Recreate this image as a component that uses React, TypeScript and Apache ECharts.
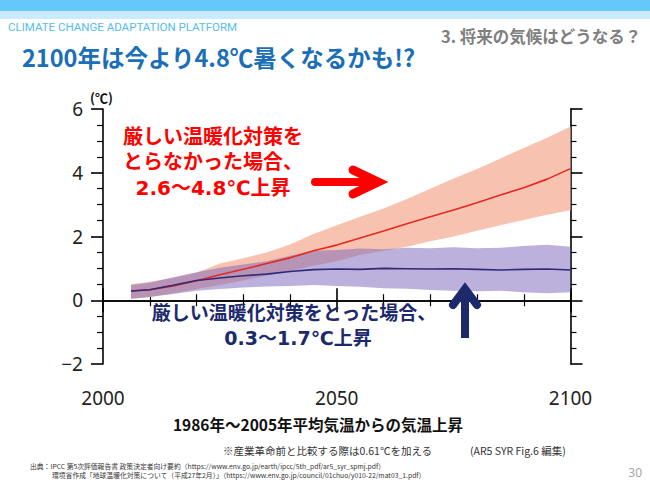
import React, { useEffect, useRef } from "react";
import * as echarts from "echarts";

// Projection years (5-year steps from the start of the scenario runs)
const YEARS = [2006, 2010, 2015, 2020, 2025, 2030, 2035, 2040, 2045, 2050, 2055, 2060, 2065, 2070, 2075, 2080, 2085, 2090, 2095, 2100];

// High-emission scenario (no strict mitigation)
const HIGH_MEAN = [0.29, 0.33, 0.45, 0.61, 0.8, 0.97, 1.15, 1.33, 1.55, 1.73, 1.95, 2.17, 2.4, 2.62, 2.83, 3.06, 3.3, 3.53, 3.8, 4.13];
const HIGH_UPPER = [0.5, 0.58, 0.7, 0.86, 1.15, 1.32, 1.5, 1.75, 2.08, 2.35, 2.62, 2.88, 3.18, 3.5, 3.82, 4.12, 4.45, 4.78, 5.1, 5.45];
const HIGH_LOWER = [0.05, 0.1, 0.22, 0.35, 0.48, 0.62, 0.78, 0.92, 1.08, 1.22, 1.42, 1.55, 1.68, 1.85, 2.0, 2.18, 2.35, 2.52, 2.68, 2.82];

// Low-emission scenario (strict mitigation)
const LOW_MEAN = [0.29, 0.33, 0.47, 0.62, 0.7, 0.77, 0.82, 0.9, 0.96, 0.98, 0.97, 1.0, 0.99, 0.98, 0.99, 0.97, 0.95, 0.97, 0.98, 0.95];
const LOW_UPPER = [0.48, 0.55, 0.72, 0.88, 1.02, 1.12, 1.22, 1.4, 1.55, 1.58, 1.62, 1.6, 1.65, 1.63, 1.66, 1.63, 1.65, 1.7, 1.74, 1.68];
const LOW_LOWER = [0.05, 0.1, 0.2, 0.3, 0.35, 0.4, 0.43, 0.45, 0.48, 0.45, 0.42, 0.38, 0.36, 0.32, 0.3, 0.28, 0.3, 0.25, 0.22, 0.25];

// Axis ticks
const X_MIN = 2000;
const X_MAX = 2100;
const X_STEP = 50;
const Y_MIN = -2;
const Y_MAX = 6;
const Y_STEP = 2;

const JP = "'Noto Sans CJK JP', 'Noto Sans', sans-serif";
// Verdana-like Latin digits with a compact line box; kana/kanji fall back to Noto CJK
const JP_ANNOT = "'DejaVu Sans', 'Noto Sans CJK JP', sans-serif";
const NUM = "'Noto Sans', 'Open Sans', sans-serif";

function bandSeries(upper: number[], lower: number[], fill: string, z: number) {
  return {
    type: "custom",
    silent: true,
    z,
    clip: true,
    data: [[YEARS[0], upper[0]]],
    renderItem: (_params: any, api: any) => {
      const top = YEARS.map((yr, i) => api.coord([yr, upper[i]]));
      const bottom = YEARS.map((yr, i) => api.coord([yr, lower[i]])).reverse();
      return {
        type: "polygon",
        shape: { points: top.concat(bottom) },
        style: { fill },
      };
    },
  };
}

function meanSeries(values: number[], color: string) {
  return {
    type: "line",
    data: YEARS.map((yr, i) => [yr, values[i]]),
    showSymbol: false,
    symbol: "none",
    z: 5,
    lineStyle: { color, width: 1.6 },
    silent: true,
  };
}

const axisLine = { show: true, lineStyle: { color: "#000", width: 1.6 } };
const axisTick = { show: true, inside: false, length: 12, lineStyle: { color: "#000", width: 1.6 } };

function xAxis(position: "bottom" | "top", showLabel: boolean) {
  return {
    type: "value",
    position,
    min: X_MIN,
    max: X_MAX,
    interval: X_STEP,
    axisLine,
    axisTick,
    minorTick: { show: true, splitNumber: 5, length: 6, lineStyle: { color: "#000", width: 1.2 } },
    splitLine: { show: false },
    axisLabel: showLabel
      ? { show: true, fontSize: 19, color: "#222", margin: 24, fontFamily: NUM, formatter: (v: number) => String(v) }
      : { show: false },
  };
}

function yAxis(position: "left" | "right", showLabel: boolean) {
  return {
    type: "value",
    position,
    min: Y_MIN,
    max: Y_MAX,
    interval: Y_STEP,
    axisLine,
    axisTick,
    minorTick: { show: true, splitNumber: 4, length: 6, lineStyle: { color: "#000", width: 1.2 } },
    splitLine: { show: false },
    axisLabel: showLabel
      ? {
          show: true,
          fontSize: 19,
          color: "#222",
          margin: 20,
          fontFamily: NUM,
          formatter: (v: number) => (v < 0 ? "\u2212" + Math.abs(v) : String(v)),
        }
      : { show: false },
  };
}

function text(x: number, y: number, str: string, opts: any) {
  return {
    type: "text",
    x,
    y,
    silent: true,
    z: 100,
    style: {
      text: str,
      fill: opts.fill,
      fontSize: opts.fontSize,
      fontWeight: opts.fontWeight || "normal",
      fontFamily: opts.fontFamily || JP,
      textAlign: opts.align || "left",
      textVerticalAlign: "middle",
    },
  };
}

export default function App() {
  const ref = useRef<HTMLDivElement>(null);

  useEffect(() => {
    if (!ref.current) return;
    const chart = echarts.init(ref.current, undefined, { renderer: "svg" });

    const red = "#FF0000";
    const navy = "#1C2A6C";
    const redText = { fill: red, fontSize: 20, fontWeight: "bold", align: "center", fontFamily: JP_ANNOT };
    const navyText = { fill: navy, fontSize: 19, fontWeight: "bold", align: "center", fontFamily: JP_ANNOT };

    chart.setOption({
      animation: false,
      backgroundColor: "#fff",
      grid: { left: 103, right: 79.5, top: 109, bottom: 123, outerBoundsMode: "none" },
      xAxis: [xAxis("bottom", true), xAxis("top", false)],
      yAxis: [yAxis("left", true), yAxis("right", false)],
      series: [
        bandSeries(HIGH_UPPER, HIGH_LOWER, "rgb(247,195,176)", 1),
        bandSeries(LOW_UPPER, LOW_LOWER, "rgba(120,100,185,0.5)", 2),
        meanSeries(HIGH_MEAN, "#E8271E"),
        meanSeries(LOW_MEAN, "#2E2A78"),
      ],
      graphic: [
        // header bars
        { type: "rect", shape: { x: 0, y: 0, width: 650, height: 11 }, style: { fill: "#66C8FA" }, silent: true },
        { type: "rect", shape: { x: 0, y: 11, width: 650, height: 8 }, style: { fill: "#C9EBFD" }, silent: true },
        text(8, 27, "CLIMATE CHANGE ADAPTATION PLATFORM", { fill: "#55BDEB", fontSize: 11.5, fontFamily: "Roboto, 'Noto Sans', sans-serif" }),
        text(22, 57, "2100年は今より4.8℃暑くなるかも!?", { fill: "#1B6FB6", fontSize: 23.5, fontWeight: "bold" }),
        text(441, 36, "3. 将来の気候はどうなる？", { fill: "#7F7F7F", fontSize: 16.5, fontWeight: "bold" }),
        text(90, 97, "(℃)", { fill: "#111", fontSize: 13, fontWeight: "bold" }),

        // high scenario annotation
        text(213, 137, "厳しい温暖化対策を", redText),
        text(213, 162, "とらなかった場合、", redText),
        text(213, 188, "2.6〜4.8℃上昇", redText),
        {
          type: "line",
          shape: { x1: 315, y1: 182, x2: 374, y2: 182 },
          style: { stroke: red, lineWidth: 8, lineCap: "round" },
          silent: true,
          z: 100,
        },
        {
          type: "polyline",
          shape: { points: [[353, 170], [378, 182], [353, 194]] },
          style: { stroke: red, lineWidth: 9, lineCap: "round", lineJoin: "miter", fill: null },
          silent: true,
          z: 100,
        },

        // low scenario annotation
        text(294, 312.5, "厳しい温暖化対策をとった場合、", navyText),
        text(298, 337.5, "0.3〜1.7℃上昇", navyText),
        {
          type: "line",
          shape: { x1: 465, y1: 338, x2: 465, y2: 291 },
          style: { stroke: navy, lineWidth: 8, lineCap: "butt" },
          silent: true,
          z: 100,
        },
        {
          type: "polyline",
          shape: { points: [[453, 305], [465, 289], [477, 305]] },
          style: { stroke: navy, lineWidth: 8, lineCap: "round", lineJoin: "miter", fill: null },
          silent: true,
          z: 100,
        },

        // captions and sources
        text(318, 424, "1986年〜2005年平均気温からの気温上昇", { fill: "#111", fontSize: 15.5, fontWeight: "bold", align: "center" }),
        text(223, 450, "※産業革命前と比較する際は0.61℃を加える", { fill: "#333", fontSize: 10.5 }),
        text(470, 450, "(AR5 SYR Fig.6 編集)", { fill: "#333", fontSize: 10.5 }),
        text(30, 466, "出典：IPCC 第5次評価報告書 政策決定者向け要約（https://www.env.go.jp/earth/ipcc/5th_pdf/ar5_syr_spmj.pdf）", { fill: "#333", fontSize: 6.8 }),
        text(52, 475, "環境省作成「地球温暖化対策について（平成27年2月）」（https://www.env.go.jp/council/01chuo/y010-22/mat03_1.pdf）", { fill: "#333", fontSize: 6.8 }),
        text(642, 472, "30", { fill: "#A6A6A6", fontSize: 12, fontFamily: NUM, align: "right" }),
      ],
    });

    return () => chart.dispose();
  }, []);

  return (
    <div
      ref={ref}
      style={{ position: "fixed", left: 0, top: 0, width: 650, height: 487, background: "#fff" }}
    />
  );
}
